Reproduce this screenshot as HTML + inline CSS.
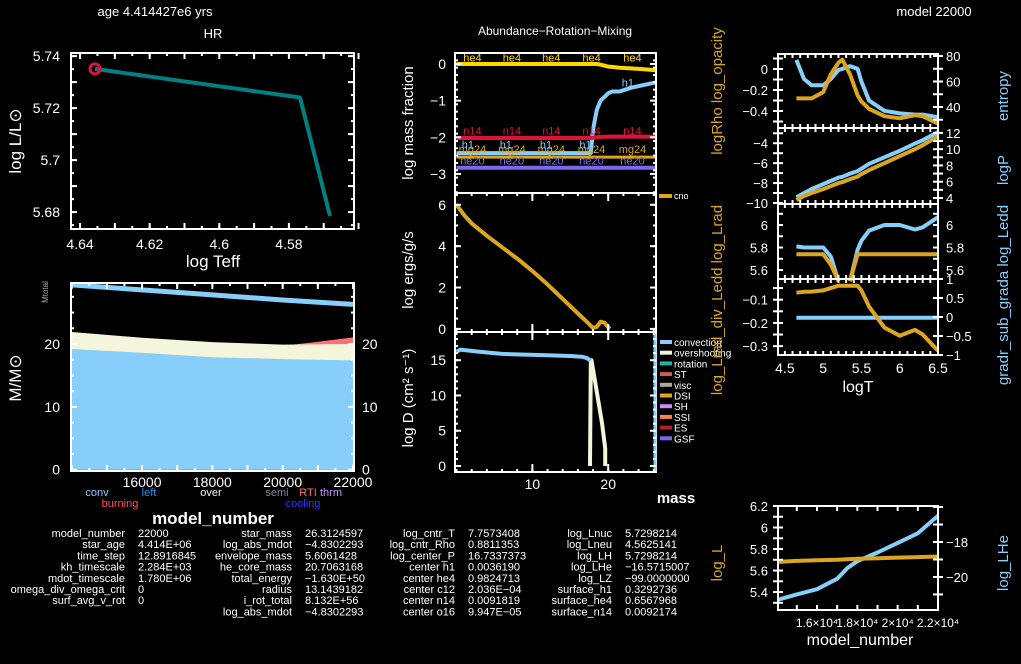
<!DOCTYPE html>
<html><head><meta charset="utf-8"><style>
html,body{margin:0;padding:0;background:#000;}
svg{display:block;font-family:"Liberation Sans",sans-serif;}
</style></head><body>
<svg id="c" width="1021" height="664" viewBox="0 0 1021 664" xmlns="http://www.w3.org/2000/svg">
<rect width="1021" height="664" fill="#000"/>
</svg>
<script>
// ---------- data ----------
const hrTeff = [4.6357, 4.5768, 4.5682];
const hrL = [5.7351, 5.7241, 5.6785];
const hrXTicks = [4.64, 4.62, 4.60, 4.58];
const hrXLabels = ["4.64", "4.62", "4.6", "4.58"];
const hrYTicks = [5.68, 5.70, 5.72, 5.74];
const hrYLabels = ["5.68", "5.7", "5.72", "5.74"];

const kipModel = [14000, 16000, 18000, 20000, 22000];
const kipConvTop = [19.2, 18.6, 17.9, 17.6, 17.4];
const kipOverTop = [21.9, 21.0, 20.3, 19.9, 20.0];
const kipBurnModel = [20300, 21000, 22000];
const kipBurnTop = [19.9, 20.35, 21.05];
const kipMtot = [29.4, 28.6, 27.8, 27.0, 26.3];
const kipXTicks = [16000, 18000, 20000, 22000];
const kipYTicks = [0, 10, 20];

const massX = [0, 2, 4, 6, 8, 10, 12, 14, 16, 17, 17.7, 18.0, 18.5, 19, 20, 20.5, 21.5, 23, 24.5, 26.3];
const he4Y = [0, 0, 0, 0, 0, 0, 0, 0, 0, 0, 0, 0, 0, -0.02, -0.07, -0.08, -0.1, -0.12, -0.14, -0.17];
const h1Y = [-2.43, -2.43, -2.43, -2.43, -2.43, -2.43, -2.43, -2.43, -2.43, -2.43, -2.43, -1.8, -1.25, -1.0, -0.8, -0.75, -0.75, -0.65, -0.58, -0.5];
const n14Y = [-2.02, -2.02, -2.02, -2.02, -2.02, -2.02, -2.02, -2.02, -2.02, -2.02, -2.02, -2.01, -2.0, -1.99, -1.98, -1.98, -1.98, -1.98, -1.98, -1.98];
const mg24Y = [-2.54, -2.54, -2.54, -2.54, -2.54, -2.54, -2.54, -2.54, -2.54, -2.54, -2.54, -2.54, -2.54, -2.54, -2.54, -2.54, -2.54, -2.54, -2.54, -2.54];
const ne20Y = [-2.83, -2.83, -2.83, -2.83, -2.83, -2.83, -2.83, -2.83, -2.83, -2.83, -2.83, -2.83, -2.83, -2.83, -2.83, -2.83, -2.83, -2.83, -2.83, -2.83];

const cnoMass = [0, 1, 2, 4, 6, 8, 10, 12, 14, 16, 17, 18, 18.5, 19, 19.5, 20.2];
const cnoY = [6.0, 5.5, 5.1, 4.5, 3.95, 3.4, 2.8, 2.15, 1.45, 0.75, 0.4, 0.05, 0.1, 0.35, 0.3, 0.0];

const convMass = [0, 0.5, 3, 6, 9, 12, 15, 16.5, 17.2, 17.7];
const convD = [16.2, 16.5, 16.2, 15.9, 15.8, 15.7, 15.6, 15.5, 15.3, 14.9];
const overMass = [17.6, 17.7, 17.8, 18.5, 19.2, 19.6, 19.6];
const overD = [0, 14.5, 15.0, 10.5, 6.0, 2.5, 0];

const logT = [4.65, 4.75, 4.85, 5.0, 5.1, 5.2, 5.25, 5.35, 5.45, 5.5, 5.6, 5.8, 6.0, 6.2, 6.3, 6.5];
const opacY = [-0.28, -0.28, -0.28, -0.22, -0.05, 0.06, 0.09, -0.05, -0.25, -0.31, -0.38, -0.45, -0.47, -0.44, -0.45, -0.52];
const entropyY = [77, 62, 57, 57, 62, 69, 70, 72, 70, 60, 45, 37, 35, 34, 34, 32];
const rhoY = [-9.7, -9.3, -9.0, -8.6, -8.3, -8.0, -7.9, -7.6, -7.35, -7.1, -6.7, -6.0, -5.3, -4.6, -4.2, -3.3];
const pY = [4.1, 4.6, 5.1, 5.7, 6.1, 6.5, 6.6, 7.0, 7.3, 7.6, 8.2, 9.0, 9.8, 10.7, 11.1, 12.1];
const lradY = [5.74, 5.74, 5.74, 5.74, 5.65, 5.5, 5.45, 5.5, 5.74, 5.74, 5.74, 5.74, 5.74, 5.74, 5.74, 5.74];
const leddY = [5.81, 5.8, 5.8, 5.8, 5.72, 5.5, 5.45, 5.5, 5.78, 5.86, 5.95, 6.0, 6.0, 5.96, 5.98, 6.07];
const lrdY = [-0.07, -0.066, -0.065, -0.06, -0.05, -0.04, -0.04, -0.04, -0.04, -0.06, -0.13, -0.22, -0.255, -0.23, -0.25, -0.32];
const gradY = [-0.02, -0.02, -0.02, -0.02, -0.02, -0.02, -0.02, -0.02, -0.02, -0.02, -0.02, -0.02, -0.02, -0.02, -0.02, -0.02];

const brModel = [14070, 15000, 16000, 17000, 17500, 18000, 19000, 20000, 21000, 22000];
const brLogL = [5.68, 5.69, 5.695, 5.70, 5.705, 5.71, 5.715, 5.72, 5.725, 5.73];
const brLogLHe = [-21.3, -21.0, -20.7, -20.1, -19.5, -19.1, -18.6, -18.05, -17.5, -16.5];

// ---------- helpers ----------
const S = document.getElementById('c');
const NS = 'http://www.w3.org/2000/svg';
function el(tag, attrs, name) {
  const e = document.createElementNS(NS, tag);
  for (const k in attrs) e.setAttribute(k, attrs[k]);
  
  
  S.appendChild(e);
  return e;
}
function txt(x, y, s, name, o) {
  o = o || {};
  const e = el('text', {x: x, y: y, fill: o.fill || '#fff', 'font-size': o.size || 12,
    'text-anchor': o.anchor || 'middle', 'font-weight': o.bold ? 'bold' : 'normal'}, name);
  if (o.rot) e.setAttribute('transform', 'rotate(' + o.rot + ' ' + x + ' ' + y + ')');
  e.textContent = s;
  return e;
}
function ax(d0, d1, p0, p1) { return v => p0 + (v - d0) / (d1 - d0) * (p1 - p0); }
function poly(xs, ys, sx, sy, color, w, name) {
  const pts = xs.map((v, i) => sx(v).toFixed(1) + ',' + sy(ys[i]).toFixed(1)).join(' ');
  return el('polyline', {points: pts, fill: 'none', stroke: color, 'stroke-width': w, 'stroke-linejoin': 'round'}, name);
}
function box(x0, y0, x1, y1, name) {
  return el('rect', {x: x0, y: y0, width: x1 - x0, height: y1 - y0, fill: 'none', stroke: '#fff', 'stroke-width': 2}, name);
}
function xticks(sx, vals, len, y0, y1, name) {
  vals.forEach(v => {
    const x = sx(v);
    el('line', {x1: x, x2: x, y1: y1, y2: y1 - len, stroke: '#fff', 'stroke-width': 2}, name);
    el('line', {x1: x, x2: x, y1: y0, y2: y0 + len, stroke: '#fff', 'stroke-width': 2}, name);
  });
}
function yticks(sy, vals, len, x0, x1, name) {
  vals.forEach(v => {
    const y = sy(v);
    el('line', {x1: x0, x2: x0 + len, y1: y, y2: y, stroke: '#fff', 'stroke-width': 2}, name);
    el('line', {x1: x1, x2: x1 - len, y1: y, y2: y, stroke: '#fff', 'stroke-width': 2}, name);
  });
}
function range(a, b, s) { const r = []; for (let v = a; v <= b + 1e-9; v += s) r.push(+v.toFixed(6)); return r; }

// ---------- titles ----------
txt(155, 16, 'age 4.414427e6 yrs', 'age-title', {size: 13});
txt(934, 16, 'model 22000', 'model-title', {size: 13});
txt(213, 38, 'HR', 'hr-title', {size: 13});
txt(555, 35, 'Abundance\u2212Rotation\u2212Mixing', 'abundance-title', {size: 12});

// ---------- HR ----------
{
  const sx = ax(4.6426, 4.5613, 71, 354), sy = ax(5.6735, 5.7412, 229, 53);
  poly(hrTeff, hrL, sx, sy, '#008080', 4, 'hr-track');
  el('circle', {cx: sx(hrTeff[0]), cy: sy(hrL[0]), r: 5, fill: 'none', stroke: '#DC143C', 'stroke-width': 3}, 'hr-current-marker');
  box(71, 53, 354, 229, 'hr-frame');
  xticks(sx, range(4.565, 4.64, 0.005), 3, 53, 229, 'hr-x-minor-tick');
  xticks(sx, range(4.56, 4.64, 0.01), 6, 53, 229, 'hr-x-major-tick');
  yticks(sy, range(5.675, 5.74, 0.005), 3, 71, 354, 'hr-y-minor-tick');
  yticks(sy, range(5.68, 5.74, 0.01), 6, 71, 354, 'hr-y-major-tick');
  hrXTicks.forEach((v, i) => txt(sx(v), 249, hrXLabels[i], 'hr-x-tick-label', {size: 14}));
  hrYTicks.forEach((v, i) => txt(60, sy(v) + 5, hrYLabels[i], 'hr-y-tick-label', {size: 14, anchor: 'end'}));
  txt(213, 267, 'log Teff', 'hr-x-axis-title', {size: 17});
  txt(21, 141, 'log L/L\u2299', 'hr-y-axis-title', {size: 17, rot: -90});
}

// ---------- Kippenhahn ----------
{
  const sx = ax(13980, 22028, 71, 354), sy = ax(-0.2, 29.7, 471, 283);
  const area = (xs, top, color, name) => {
    let p = xs.map((v, i) => sx(v) + ',' + sy(top[i])).join(' ');
    p += ' ' + sx(xs[xs.length - 1]) + ',' + sy(0) + ' ' + sx(xs[0]) + ',' + sy(0);
    return el('polygon', {points: p, fill: color}, name);
  };
  area(kipBurnModel, kipBurnTop, '#FF7070', 'kipp-burning-region');
  area(kipModel, kipOverTop, '#F5F5DC', 'kipp-overshoot-region');
  area(kipModel, kipConvTop, '#87CEFA', 'kipp-convective-region');
  poly(kipModel, kipMtot, sx, sy, '#87CEFA', 5, 'kipp-total-mass-line');
  box(71, 283, 354, 471, 'kipp-frame');
  xticks(sx, range(14500, 22000, 500), 3, 283, 471, 'kipp-x-minor-tick');
  xticks(sx, range(14000, 22000, 1000), 6, 283, 471, 'kipp-x-major-tick');
  yticks(sy, range(0, 29, 2.5), 3, 71, 354, 'kipp-y-minor-tick');
  yticks(sy, kipYTicks, 6, 71, 354, 'kipp-y-major-tick');
  kipXTicks.forEach(v => txt(sx(v), 487, String(v), 'kipp-x-tick-label', {size: 14}));
  kipYTicks.forEach(v => {
    txt(60, sy(v) + 5, String(v), 'kipp-y-tick-label', {size: 14, anchor: 'end'});
    txt(362, sy(v) + 5, String(v), 'kipp-y2-tick-label', {size: 14, anchor: 'start'});
  });
  txt(48, 292, 'Mtotal', 'kipp-mtotal-label', {size: 8, fill: '#aaa', rot: -90});
  txt(21, 378, 'M/M\u2299', 'kipp-y-axis-title', {size: 17, rot: -90});
  txt(97, 496, 'conv', 'kipp-legend-conv', {size: 11, fill: '#87CEFA'});
  txt(149, 496, 'left', 'kipp-legend-left', {size: 11, fill: '#1E90FF'});
  txt(211, 496, 'over', 'kipp-legend-over', {size: 11, fill: '#F5F5DC'});
  txt(277, 496, 'semi', 'kipp-legend-semi', {size: 11, fill: '#778899'});
  txt(308, 496, 'RTI', 'kipp-legend-rti', {size: 11, fill: '#FF7070'});
  txt(331, 496, 'thrm', 'kipp-legend-thrm', {size: 11, fill: '#C78FFF'});
  txt(120, 507, 'burning', 'kipp-legend-burning', {size: 11, fill: '#FF5050'});
  txt(303, 507, 'cooling', 'kipp-legend-cooling', {size: 11, fill: '#3333FF'});
  txt(213, 524, 'model_number', 'kipp-x-axis-title', {size: 17, bold: true});
}

// ---------- Abundance / Power / Mixing ----------
{
  const sx = ax(-0.2, 26.3, 455, 656);
  const sy1 = ax(-3.52, 0.3, 193, 53);
  poly(massX, he4Y, sx, sy1, '#FFD700', 4, 'he4-line');
  poly(massX, h1Y, sx, sy1, '#87CEFA', 4, 'h1-line');
  poly(massX, n14Y, sx, sy1, '#DC143C', 4, 'n14-line');
  poly(massX, mg24Y, sx, sy1, '#DAA520', 3, 'mg24-line');
  poly(massX, ne20Y, sx, sy1, '#7B68EE', 4, 'ne20-line');
  [2.1, 7.3, 12.5, 17.8, 23.2].forEach(m => {
    txt(sx(m), sy1(-0.02) - 3, 'he4', 'he4-label', {size: 11, fill: '#FFD700'});
    txt(sx(m), sy1(-2.0) - 3, 'n14', 'n14-label', {size: 11, fill: '#DC143C'});
    txt(sx(m), sy1(-2.54) - 4, 'mg24', 'mg24-label', {size: 11, fill: '#DAA520'});
    txt(sx(m), sy1(-2.83) - 3, 'ne20', 'ne20-label', {size: 11, fill: '#7B68EE'});
  });
  [1.5, 6.5, 11.8, 17.0].forEach(m => txt(sx(m), sy1(-2.3), 'h1', 'h1-label', {size: 11, fill: '#87CEFA'}));
  txt(sx(22.6), sy1(-0.62), 'h1', 'h1-label', {size: 11, fill: '#87CEFA'});
  box(455, 53, 656, 193, 'abundance-frame');
  yticks(sy1, range(-3.5, 0.3, 0.2), 3, 455, 656, 'abundance-y-minor-tick');
  yticks(sy1, [-3, -2, -1, 0], 6, 455, 656, 'abundance-y-major-tick');
  [-3, -2, -1, 0].forEach(v => txt(446, sy1(v) + 5, v === 0 ? '0' : '\u2212' + (-v), 'abundance-y-tick-label', {size: 14, anchor: 'end'}));
  txt(413, 123, 'log mass fraction', 'abundance-y-axis-title', {size: 15, rot: -90});
  const sy2 = ax(-0.15, 6.57, 332, 193);
  poly(cnoMass, cnoY, sx, sy2, '#DAA520', 4, 'cno-line');
  el('line', {x1: 659, x2: 672, y1: 196, y2: 196, stroke: '#DAA520', 'stroke-width': 4}, 'cno-legend-swatch');
  txt(674, 199, 'cno', 'cno-legend-label', {size: 9, anchor: 'start'});
  xticks(sx, range(0, 26, 2), 3, 193, 332, 'power-x-minor-tick');
  xticks(sx, [10, 20], 8, 193, 332, 'power-x-major-tick');
  yticks(sy2, range(0, 6.5, 0.5), 3, 455, 656, 'power-y-minor-tick');
  yticks(sy2, [0, 2, 4, 6], 6, 455, 656, 'power-y-major-tick');
  [0, 2, 4, 6].forEach(v => txt(446, sy2(v) + 5, String(v), 'power-y-tick-label', {size: 14, anchor: 'end'}));
  txt(413, 270, 'log ergs/g/s', 'power-y-axis-title', {size: 15, rot: -90});
  const sy3 = ax(-0.85, 19.0, 472, 332);
  poly(overMass, overD, sx, sy3, '#F5F5DC', 4, 'overshooting-line');
  poly(convMass, convD, sx, sy3, '#87CEFA', 4, 'convection-line');
  box(455, 53, 656, 472, 'abundance-outer-frame');
  el('line', {x1: 655, x2: 655, y1: 334, y2: 471, stroke: '#87CEFA', 'stroke-width': 3}, 'mixing-right-edge');
  xticks(sx, range(0, 26, 2), 3, 332, 472, 'mixing-x-minor-tick');
  xticks(sx, [10, 20], 8, 332, 472, 'mixing-x-major-tick');
  yticks(sy3, range(0, 18, 1), 3, 455, 656, 'mixing-y-minor-tick');
  yticks(sy3, [0, 5, 10, 15], 6, 455, 656, 'mixing-y-major-tick');
  [0, 5, 10, 15].forEach(v => txt(446, sy3(v) + 5, String(v), 'mixing-y-tick-label', {size: 14, anchor: 'end'}));
  [10, 20].forEach(v => txt(sx(v), 489, String(v), 'mass-x-tick-label', {size: 14}));
  txt(413, 398, 'log D (cm\u00B2 s\u207B\u00B9)', 'mixing-y-axis-title', {size: 15, rot: -90});
  txt(676, 503, 'mass', 'mass-x-axis-title', {size: 15, bold: true});
  el('line', {x1: 455, x2: 656, y1: 193, y2: 193, stroke: '#fff', 'stroke-width': 2}, 'divider-1');
  el('line', {x1: 455, x2: 656, y1: 332, y2: 332, stroke: '#fff', 'stroke-width': 2}, 'divider-2');
  const mixNames = ['convection', 'overshooting', 'rotation', 'ST', 'visc', 'DSI', 'SH', 'SSI', 'ES', 'GSF'];
  const mixColors = ['#87CEFA', '#F5F5DC', '#20B2AA', '#CD5C5C', '#A9A9A9', '#DAA520', '#C78FFF', '#FF7F50', '#B22222', '#7B68EE'];
  mixNames.forEach((n, i) => {
    const y = 342 + i * 10.7;
    el('line', {x1: 660, x2: 672, y1: y, y2: y, stroke: mixColors[i], 'stroke-width': 4}, 'mixing-legend-swatch');
    txt(674, y + 4, n, 'mixing-legend-label', {size: 10, anchor: 'start'});
  });
}

// ---------- Profile panels (right) ----------
{
  const sx = ax(4.41, 6.5, 778, 938);
  const gold = '#DAA520', blue = '#87CEFA';
  const a1 = ax(-0.562, 0.143, 128, 54), b1 = ax(23.5, 81.6, 128, 54);
  poly(logT, entropyY, sx, b1, blue, 4, 'entropy-line');
  poly(logT, opacY, sx, a1, gold, 4, 'opacity-line');
  [0, -0.2, -0.4].forEach(v => txt(768, a1(v) + 5, v === 0 ? '0' : '\u2212' + (-v), 'opacity-tick-label', {size: 13, anchor: 'end'}));
  [40, 60, 80].forEach(v => txt(946, b1(v) + 5, String(v), 'entropy-tick-label', {size: 13, anchor: 'start'}));
  yticks(a1, range(-0.5, 0.1, 0.1), 5, 778, 778, 'opacity-y-tick');
  yticks(b1, range(30, 80, 10), 5, 938, 938, 'entropy-y-tick');
  const a2 = ax(-10.1, -2.47, 204, 128), b2 = ax(3.26, 12.6, 204, 128);
  poly(logT, pY, sx, b2, blue, 4, 'logP-line');
  poly(logT, rhoY, sx, a2, gold, 4, 'logRho-line');
  [-4, -6, -8, -10].forEach(v => txt(768, a2(v) + 5, '\u2212' + (-v), 'logRho-tick-label', {size: 13, anchor: 'end'}));
  [4, 6, 8, 10, 12].forEach(v => txt(946, b2(v) + 5, String(v), 'logP-tick-label', {size: 13, anchor: 'start'}));
  yticks(a2, range(-10, -3, 1), 5, 778, 778, 'logRho-y-tick');
  yticks(b2, range(4, 12, 1), 5, 938, 938, 'logP-y-tick');
  const a3 = ax(5.52, 6.187, 279, 204);
  poly(logT.slice(0, 6), leddY.slice(0, 6), sx, a3, blue, 4, 'log-ledd-line-a');
  poly(logT.slice(7), leddY.slice(7), sx, a3, blue, 4, 'log-ledd-line-b');
  poly(logT.slice(0, 6), lradY.slice(0, 6), sx, a3, gold, 4, 'log-lrad-line-a');
  poly(logT.slice(7), lradY.slice(7), sx, a3, gold, 4, 'log-lrad-line-b');
  [5.6, 5.8, 6].forEach(v => {
    txt(768, a3(v) + 5, String(v), 'log-lrad-tick-label', {size: 13, anchor: 'end'});
    txt(946, a3(v) + 5, String(v), 'log-ledd-tick-label', {size: 13, anchor: 'start'});
  });
  yticks(a3, range(5.6, 6.1, 0.1), 5, 778, 938, 'lrad-y-tick');
  const a4 = ax(-0.338, -0.011, 355, 279), b4 = ax(-1, 1, 355, 279);
  poly(logT, gradY, sx, b4, blue, 4, 'gradr-sub-grada-line');
  poly(logT, lrdY, sx, a4, gold, 4, 'lrad-div-ledd-line');
  [-0.1, -0.2, -0.3].forEach(v => txt(768, a4(v) + 5, '\u2212' + (-v), 'lrad-div-ledd-tick-label', {size: 13, anchor: 'end'}));
  [[1, '1'], [0.5, '0.5'], [0, '0'], [-0.5, '\u22120.5'], [-1, '\u22121']].forEach(p => txt(946, b4(p[0]) + 5, p[1], 'gradr-tick-label', {size: 13, anchor: 'start'}));
  yticks(a4, range(-0.3, -0.05, 0.05), 5, 778, 778, 'lrd-y-tick');
  yticks(b4, range(-1, 1, 0.5), 5, 938, 938, 'gradr-y-tick');
  box(778, 54, 938, 355, 'profile-frame');
  [128, 204, 279].forEach(y => {
    el('line', {x1: 778, x2: 938, y1: y, y2: y, stroke: '#fff', 'stroke-width': 2}, 'profile-divider');
    xticks(sx, range(4.5, 6.5, 0.1), 4, y - 4, y + 4, 'profile-divider-tick');
  });
  xticks(sx, range(4.5, 6.5, 0.1), 4, 54, 355, 'profile-x-tick');
  [[4.5, '4.5'], [5, '5'], [5.5, '5.5'], [6, '6'], [6.5, '6.5']].forEach(p => txt(sx(p[0]), 373, p[1], 'logT-tick-label', {size: 14}));
  txt(858, 392, 'logT', 'logT-axis-title', {size: 16});
  txt(722, 91, 'logRho log_opacity', 'opacity-rho-axis-title', {size: 15, fill: gold, rot: -90, anchor: 'middle'});
  txt(722, 300, 'log_Lrad_div_Ledd log_Lrad', 'lrad-axis-title', {size: 15, fill: gold, rot: -90});
  txt(1008, 96, 'entropy', 'entropy-axis-title', {size: 15, fill: blue, rot: -90});
  txt(1008, 170, 'logP', 'logP-axis-title', {size: 15, fill: blue, rot: -90});
  txt(1008, 295, 'gradr_sub_grada log_Ledd', 'gradr-axis-title', {size: 15, fill: blue, rot: -90});
}

// ---------- Bottom right history ----------
{
  const sx = ax(14067, 22000, 778, 938), a = ax(5.233, 6.2, 610, 506), b = ax(-21.89, -15.94, 610, 506);
  poly(brModel, brLogLHe, sx, b, '#87CEFA', 4, 'log-LHe-line');
  poly(brModel, brLogL, sx, a, '#DAA520', 4, 'log-L-line');
  box(778, 506, 938, 610, 'history-frame');
  xticks(sx, range(15000, 22000, 1000), 5, 506, 610, 'history-x-tick');
  yticks(a, range(5.3, 6.2, 0.1), 5, 778, 778, 'history-y-tick');
  yticks(b, range(-21, -16, 1), 5, 938, 938, 'history-y2-tick');
  [5.4, 5.6, 5.8, 6, 6.2].forEach(v => txt(768, a(v) + 5, String(v), 'log-L-tick-label', {size: 13, anchor: 'end'}));
  [-18, -20].forEach(v => txt(946, b(v) + 5, '\u2212' + (-v), 'log-LHe-tick-label', {size: 13, anchor: 'start'}));
  [[16000, '1.6\u00D710\u2074'], [18000, '1.8\u00D710\u2074'], [20000, '2\u00D710\u2074'], [22000, '2.2\u00D710\u2074']].forEach(p => txt(sx(p[0]), 627, p[1], 'history-x-tick-label', {size: 12}));
  txt(860, 645, 'model_number', 'history-x-axis-title', {size: 16});
  txt(722, 563, 'log_L', 'log-L-axis-title', {size: 15, fill: '#DAA520', rot: -90});
  txt(1008, 563, 'log_LHe', 'log-LHe-axis-title', {size: 15, fill: '#87CEFA', rot: -90});
}

// ---------- Text summary ----------
{
  const cols = [
    [['model_number', '22000'], ['star_age', '4.414E+06'], ['time_step', '12.8916845'], ['kh_timescale', '2.284E+03'], ['mdot_timescale', '1.780E+06'], ['omega_div_omega_crit', '0'], ['surf_avg_v_rot', '0']],
    [['star_mass', '26.3124597'], ['log_abs_mdot', '\u22124.8302293'], ['envelope_mass', '5.6061428'], ['he_core_mass', '20.7063168'], ['total_energy', '\u22121.630E+50'], ['radius', '13.1439182'], ['i_rot_total', '8.132E+56'], ['log_abs_mdot', '\u22124.8302293']],
    [['log_cntr_T', '7.7573408'], ['log_cntr_Rho', '0.8811353'], ['log_center_P', '16.7337373'], ['center h1', '0.0036190'], ['center he4', '0.9824713'], ['center c12', '2.036E\u221204'], ['center n14', '0.0091819'], ['center o16', '9.947E\u221205']],
    [['log_Lnuc', '5.7298214'], ['log_Lneu', '4.5625141'], ['log_LH', '5.7298214'], ['log_LHe', '\u221216.5715007'], ['log_LZ', '\u221299.0000000'], ['surface_h1', '0.3292736'], ['surface_he4', '0.6567968'], ['surface_n14', '0.0092174']]
  ];
  const lx = [125, 292, 455, 612], vx = [138, 305, 468, 625];
  cols.forEach((col, c) => col.forEach((r, i) => {
    const y = 537 + i * 11.2;
    txt(lx[c], y, r[0], 'summary-label', {size: 11, anchor: 'end'});
    txt(vx[c], y, r[1], 'summary-value', {size: 11, anchor: 'start'});
  }));
}
</script>
</body></html>
